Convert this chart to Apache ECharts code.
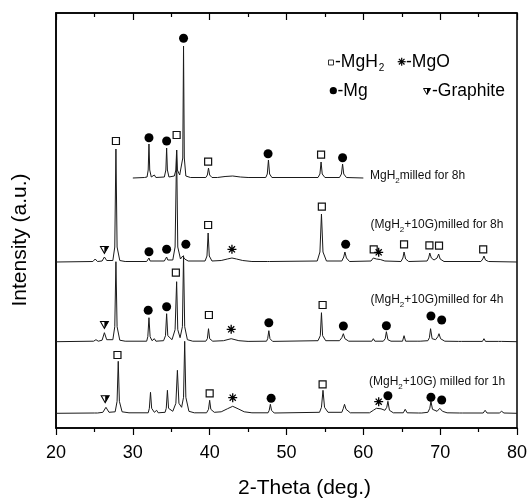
<!DOCTYPE html>
<html>
<head>
<meta charset="utf-8">
<script src="https://cdn.jsdelivr.net/npm/echarts@6/dist/echarts.min.js"></script>
<style>html,body{margin:0;padding:0;background:#fff}#c{width:531px;height:498px}</style>
</head>
<body>
<div id="c"></div>
<script>
// ---- data: [2-theta (deg), intensity above own baseline (a.u.)] ----
const traceNames = ['MgH2 milled for 8h', '(MgH2+10G) milled for 8h', '(MgH2+10G) milled for 4h', '(MgH2+10G) milled for 1h'];
const xTicks = [20, 30, 40, 50, 60, 70, 80];

const traceMgH2_8h = [[30.0,0],[31.5,0.5],[31.85,1],[32.0,8],[32.1,34],[32.2,8],[32.4,1],[32.8,3],[33.0,0.5],[34.1,1],[34.3,8],[34.4,30],[34.5,8],[34.7,1],[35.4,2],[35.6,8],[35.7,28],[35.8,8],[36.1,3],[36.5,20],[36.6,132],[36.7,20],[36.9,2],[37.5,0.5],[39.5,0.5],[39.7,3],[39.85,10],[40.0,3],[40.3,0.5],[41,0.5],[42,1.5],[43,2],[44,1],[45,0.5],[47.3,0.5],[47.5,4],[47.65,18],[47.8,4],[48.1,0.5],[54.1,0.5],[54.35,4],[54.5,16],[54.65,4],[55.0,0.5],[56.9,0.5],[57.15,4],[57.3,14],[57.45,4],[57.8,0.5],[60,0]];

const traceG_8h = [[20,0],[24.8,0.5],[25.1,3],[25.4,0.5],[26.0,1],[26.3,5],[26.6,1.5],[27.4,1.5],[27.65,15],[27.8,113],[27.95,15],[28.3,1.5],[29,0.5],[31.8,0.5],[32.0,2],[32.1,4],[32.25,1],[34.1,1],[34.3,3],[34.4,5],[34.55,2],[35.2,2],[35.5,15],[35.7,112],[35.85,15],[36.2,3],[36.5,6],[36.6,8],[36.75,3],[37.2,1],[39.4,1],[39.65,6],[39.8,29],[39.95,6],[40.3,1],[41.5,1.5],[42.3,3],[42.9,4],[43.5,3],[44.3,1.5],[45.5,0.5],[47.5,0.5],[47.65,1.5],[47.8,0.5],[54.0,1],[54.35,10],[54.55,48],[54.75,10],[55.2,1],[57.2,1],[57.45,5],[57.6,10],[57.8,4],[58.2,0.5],[61.0,1],[61.3,4],[61.5,5],[61.7,3],[62.2,2.5],[62.8,1],[64.9,0.5],[65.15,4],[65.3,10],[65.5,3],[65.9,0.5],[68.3,1],[68.5,4],[68.65,9],[68.85,4],[69.2,2],[69.6,4],[69.8,8],[70.0,3],[70.5,0.5],[75.3,0.5],[75.55,3],[75.7,6],[75.9,2],[76.3,0.5],[80,0]];

const traceG_4h = [[20,0],[24.9,0.5],[25.2,2],[25.5,0.5],[26.0,1.5],[26.3,9],[26.6,2],[27.4,2],[27.65,15],[27.8,80],[27.95,15],[28.3,1.5],[29,0.5],[31.8,0.5],[31.95,5],[32.1,24],[32.25,5],[32.5,1],[32.8,3],[33.0,0.5],[34.0,1],[34.25,6],[34.4,28],[34.55,6],[35.1,2],[35.5,12],[35.7,60],[35.85,12],[36.15,4],[36.45,15],[36.6,86],[36.75,15],[37.1,2],[37.8,0.5],[39.5,0.5],[39.7,3],[39.85,13],[40.0,3],[40.4,0.5],[41.8,1],[42.8,3],[43.8,1],[45,0.3],[47.4,0.5],[47.55,3],[47.7,11],[47.85,3],[48.2,0.3],[54.1,1],[54.4,6],[54.55,29],[54.7,6],[55.1,1],[56.9,1],[57.2,4],[57.4,8],[57.6,3],[58.1,0.5],[61.1,0.5],[61.3,3],[61.5,0.5],[62.6,0.5],[62.85,3],[63.0,10],[63.2,2],[63.6,0.5],[65.1,0.5],[65.3,6],[65.5,0.5],[67.0,0.5],[67.2,2],[67.4,0.5],[68.4,1],[68.6,4],[68.75,13],[68.95,3],[69.4,2],[69.7,5],[69.85,8],[70.05,3],[70.6,0.5],[72.4,0.3],[72.6,2],[72.8,0.3],[75.5,0.3],[75.7,3],[75.9,0.3],[77.6,0.3],[77.8,2],[78.0,0.3],[80,0]];

const traceG_1h = [[20,0],[25.0,0.3],[25.2,1],[25.4,0.3],[26.1,1],[26.5,6],[26.9,1],[27.7,1.5],[27.95,12],[28.1,52],[28.25,12],[28.6,1.5],[29.5,0.5],[32.0,0.5],[32.15,5],[32.3,21],[32.45,5],[32.8,1],[33.1,3],[33.3,0.5],[34.2,1],[34.35,5],[34.5,23],[34.65,5],[35.2,2],[35.6,10],[35.8,43],[36.0,10],[36.35,6],[36.6,16],[36.75,72],[36.9,16],[37.3,2],[38,0.5],[39.6,0.5],[39.85,4],[40.0,13],[40.15,4],[40.6,1],[41.5,1.5],[42.3,4.5],[43.0,7],[43.7,4.5],[44.5,1.5],[45.5,0.5],[47.6,0.5],[47.75,3],[47.9,9],[48.05,3],[48.4,0.3],[54.3,1],[54.55,6],[54.75,23],[54.95,6],[55.4,1],[57.2,1],[57.4,5],[57.55,9],[57.75,4],[58.3,0.5],[60.8,0.5],[61.3,3],[61.7,5],[62.3,4.5],[62.8,3],[63.05,6],[63.2,12],[63.4,3],[63.9,0.5],[65.2,0.5],[65.45,4],[65.7,0.5],[67.2,0.3],[67.4,1],[67.6,0.3],[68.4,1],[68.65,5],[68.8,12],[69.0,4],[69.6,2],[69.95,5],[70.1,6],[70.3,2],[70.9,0.5],[72.5,0.3],[72.7,1.5],[72.9,0.3],[75.6,0.3],[75.85,3],[76.1,0.3],[77.7,0.3],[78.0,2],[78.3,0.3],[80,0]];

// phase markers: [2-theta, height above that trace's baseline, trace index]
const mgh2Marks = [[35.7,43,0],[39.8,16.3,0],[54.5,23.3,0],
  [27.8,121,1],[39.8,37,1],[54.6,55.3,1],[61.35,12.7,1],[65.3,17.7,1],[68.6,16.7,1],[69.85,16.3,1],[75.6,12.7,1],
  [35.6,69,2],[39.9,26.7,2],[54.7,36.7,2],
  [28.0,58.3,3],[40.0,20,3],[54.7,29,3]];
const mgMarks = [[32.1,40.3,0],[34.4,37,0],[36.6,139.7,0],[47.6,24.3,0],[57.3,20.3,0],
  [32.1,10.3,1],[34.4,12.7,1],[36.9,17.7,1],[57.7,17.7,1],
  [32.0,31.4,2],[34.4,35,2],[47.7,19,2],[57.4,15.7,2],[63.0,16,2],[68.8,25.7,2],[70.2,21.7,2],
  [48.0,15,3],[63.2,17.6,3],[68.8,16,3],[70.2,13.3,3]];
const mgoMarks = [[42.9,12.7,1],[62.0,9.7,1],[42.8,12.4,2],[43.0,15.6,3],[62.0,11.6,3]];
const graphiteMarks = [[26.3,12,1],[26.3,16.7,2],[26.4,14,3]];

// vertical stacking offsets of the four patterns
const offsets = [250, 166, 86.3, 14.7];
const traces = [traceMgH2_8h, traceG_8h, traceG_4h, traceG_1h];

// ---- build ----
const FONT = '"Liberation Sans", Arial, sans-serif';
const ASTER = 'path://M5,0L5,10M0,5L10,5M1.6,1.6L8.4,8.4M1.6,8.4L8.4,1.6';
const place = arr => arr.map(p => [p[0], p[1] + offsets[p[2]]]);

const series = traces.map((t, i) => ({
  name: traceNames[i], type: 'line', showSymbol: false, symbol: 'none',
  data: t.map(p => [p[0], p[1] + offsets[i]]),
  lineStyle: { color: '#1a1a1a', width: 1 }, z: 2, silent: true
}));
series.push(
  { name: 'MgH2', type: 'scatter', data: place(mgh2Marks), symbol: 'rect', symbolSize: 7,
    itemStyle: { color: '#fff', borderColor: '#111', borderWidth: 1.2, opacity: 1 }, z: 5 },
  { name: 'Mg', type: 'scatter', data: place(mgMarks), symbol: 'circle', symbolSize: 9,
    itemStyle: { color: '#000', opacity: 1 }, z: 5 },
  { name: 'MgO', type: 'scatter', data: place(mgoMarks), symbol: ASTER, symbolSize: 9,
    itemStyle: { color: '#000', borderColor: '#000', borderWidth: 1.3, opacity: 1 }, z: 5 },
  { name: 'Graphite', type: 'scatter', data: place(graphiteMarks), symbol: 'path://M0,0L10,0L5,9Z', symbolSize: [8, 7],
    itemStyle: { color: '#fff', borderColor: '#000', borderWidth: 1, opacity: 1 }, z: 5 },
  { name: 'Graphite ', type: 'scatter', data: place(graphiteMarks), symbol: 'path://M5,0L10,0L5,9Z', symbolSize: [4, 7], symbolOffset: [2, 0],
    itemStyle: { color: '#000', opacity: 1 }, z: 6 }
);

const sub = { fontSize: 8, fontFamily: FONT, padding: [9, 0, 0, 0] };
const lab = (x, y, txt) => ({ type: 'text', x: x, y: y, style: { text: txt, font: '12px ' + FONT, fill: '#111', verticalAlign: 'middle', rich: { s: sub } }, z: 10 });
const lsub = { fontSize: 10, fontFamily: FONT, padding: [12, 0, 0, 1] };
const leg = (x, y, txt) => ({ type: 'text', x: x, y: y, style: { text: txt, font: '17.5px ' + FONT, fill: '#000', verticalAlign: 'middle', rich: { s: lsub } }, z: 10 });
const seg = (x1, y1, x2, y2) => ({ type: 'line', shape: { x1: x1, y1: y1, x2: x2, y2: y2 }, style: { stroke: '#000', lineWidth: 1.2 }, z: 10 });

const option = {
  animation: false,
  backgroundColor: '#fff',
  grid: { left: 56, right: 14, top: 13, bottom: 70, show: true, borderColor: '#000', borderWidth: 1.5,
    containLabel: false, outerBoundsMode: 'none' },
  xAxis: [
    { type: 'value', min: xTicks[0], max: xTicks[xTicks.length - 1], interval: 10, position: 'bottom',
      name: '2-Theta (deg.)', nameLocation: 'middle', nameGap: 50,
      nameTextStyle: { fontSize: 21, fontFamily: FONT, color: '#000', padding: [0, 0, 0, 36] },
      axisLine: { show: true, lineStyle: { color: '#000', width: 1.5 } },
      axisTick: { show: true, inside: false, length: 7, lineStyle: { color: '#000', width: 1.2 } },
      minorTick: { show: true, splitNumber: 2, length: 4, lineStyle: { color: '#000', width: 1.2 } },
      axisLabel: { fontSize: 18, fontFamily: FONT, color: '#000', margin: 16 },
      splitLine: { show: false } },
    { type: 'value', min: xTicks[0], max: xTicks[xTicks.length - 1], interval: 10, position: 'top',
      axisLine: { show: true, lineStyle: { color: '#000', width: 1.5 } },
      axisTick: { show: true, inside: true, length: 7, lineStyle: { color: '#000', width: 1.2 } },
      minorTick: { show: true, splitNumber: 2, length: 4, lineStyle: { color: '#000', width: 1.2 } },
      axisLabel: { show: false }, splitLine: { show: false } }
  ],
  yAxis: { type: 'value', min: 0, max: 415,
    name: 'Intensity (a.u.)', nameLocation: 'middle', nameGap: 25,
    nameTextStyle: { fontSize: 21, fontFamily: FONT, color: '#000', padding: [0, 39, 0, 0] },
    axisLine: { show: true, lineStyle: { color: '#000', width: 1.5 } },
    axisTick: { show: false }, axisLabel: { show: false }, splitLine: { show: false } },
  series: series,
  graphic: [
    lab(370, 176, 'MgH{s|2}milled for 8h'),
    lab(370.5, 225, '(MgH{s|2}+10G)milled for 8h'),
    lab(370.5, 300, '(MgH{s|2}+10G)milled for 4h'),
    lab(369, 382, '(MgH{s|2}+10G) milled for 1h'),
    // legend
    { type: 'rect', shape: { x: 328.5, y: 60, width: 5, height: 5 }, style: { fill: '#fff', stroke: '#333', lineWidth: 1 }, z: 10 },
    leg(335, 62, '-MgH{s|2}'),
    seg(401.7, 57.7, 401.7, 65.7), seg(397.7, 61.7, 405.7, 61.7), seg(398.9, 58.9, 404.5, 64.5), seg(398.9, 64.5, 404.5, 58.9),
    leg(406, 62, '-MgO'),
    { type: 'circle', shape: { cx: 333.3, cy: 90.7, r: 3.6 }, style: { fill: '#000' }, z: 10 },
    leg(337.5, 91, '-Mg'),
    { type: 'polygon', shape: { points: [[423.5, 88.5], [430.5, 88.5], [427, 94.5]] }, style: { fill: '#fff', stroke: '#000', lineWidth: 1 }, z: 10 },
    { type: 'polygon', shape: { points: [[427, 88.5], [430.5, 88.5], [427, 94.5]] }, style: { fill: '#000' }, z: 11 },
    leg(432, 91, '-Graphite')
  ]
};

const chart = echarts.init(document.getElementById('c'), null, { renderer: 'canvas' });
chart.setOption(option);
</script>
</body>
</html>
